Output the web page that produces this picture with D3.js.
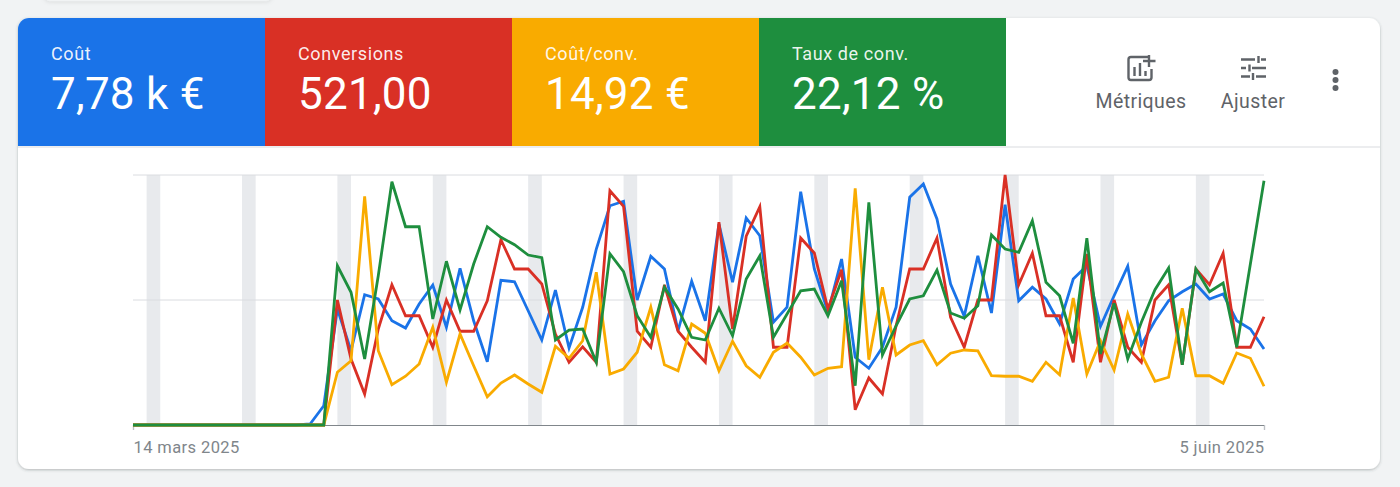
<!DOCTYPE html>
<html lang="fr"><head><meta charset="utf-8">
<script src="https://cdn.jsdelivr.net/npm/d3@7/dist/d3.min.js"></script>
<style>html,body{margin:0;padding:0;background:#f1f3f4;overflow:hidden}svg{display:block}text{font-family:Roboto,sans-serif}</style>
</head><body><svg id="c" width="1400" height="487"></svg>
<script>
const startDate = "2025-03-14";
const endDate = "2025-06-05";
const zeros = n => Array(n).fill(0);
const cost = [...zeros(13),0.4,7.7,46.4,29.7,52.1,50.4,41.7,38.8,48.4,56,39.1,62.7,41.7,25.3,57.9,57.3,45.7,34,54,30.8,47.1,70.4,87.7,89.5,50,67.5,62.4,37.7,57.5,41.7,80.4,57.1,82.8,75.7,41.1,47.1,93.3,62.4,45.1,66.4,27.1,22.7,31.1,47.1,91.1,96.4,82.4,56.4,43.5,67.7,44.8,88.1,49.7,55.1,50.4,40.4,58.4,63.7,39.5,51.7,63.5,32,41.7,49.7,53.3,56.4,50.4,52.4,41.7,38.4,30.4];
const conversions = [...zeros(15),50,26.4,12.4,38.4,56.1,43.7,43.7,31.1,50,37.5,37.5,49.7,74.1,62.4,62.4,56.4,36.4,25.1,31.3,25.1,93.7,87.5,37.5,31.1,56,37.5,31.1,25.1,81.1,38.4,75.5,87.3,31.1,31.1,74.8,68.8,46.4,62.1,6.1,18.8,12.4,39.7,62.4,62.4,74.8,43.1,31.1,50,50,100,56.1,68.7,43.7,43.7,25.1,68.4,25.1,50,31.1,25.1,50,56.1,24.1,62.4,56.1,68.7,31.1,31.1,43.3];
const costPerConv = [...zeros(15),21.1,25.7,91.5,29.7,16.1,19.5,24.4,39.1,17.1,36.4,23.7,11.3,16.8,20,16.4,13.1,31.5,26.7,33.7,61.1,20.4,22.4,29.1,47.1,24.1,21.7,40.4,36.7,21.7,33.5,23.7,19.1,29.1,32.8,27.1,20,22.7,23.3,94.7,26.1,55.1,28,32,33.7,24.1,28.7,30,29.7,19.7,19.5,19.5,17.5,25.1,20.1,50.8,20.4,33.7,22,44.4,28.4,17.5,19.1,46.7,19.7,19.7,16.7,28.8,26.7,15.5];
const convRate = [...zeros(15),63.7,53.1,26.4,59.7,97.3,79.3,79.3,42.4,65.5,46,64.4,79.3,75.1,72.1,68,66.9,34,38,38.4,25.1,68.5,61.3,43.7,35.1,55.1,46.4,35.1,34,46.7,35.7,58.4,67.7,35.1,44.4,53.7,54.4,43.7,57.7,15.7,89.1,28,39.7,50.4,51.7,62,44.8,42.7,47.7,76,70.4,69.1,81.7,57.1,51.7,32.7,74.7,28.4,48.7,26.4,41.1,54.1,62.8,24.1,62.4,53.3,56.8,31.1,64.4,97.7];
const metricNames = ["Coût","Conversions","Coût/conv.","Taux de conv."];
const metricValues = ["7,78 k €","521,00","14,92 €","22,12 %"];
const metricColors = ["#1a73e8","#d93025","#f9ab00","#1e8e3e"];
const actionLabels = ["Métriques","Ajuster"];
const tickLabels = ["14 mars 2025","5 juin 2025"];

const svg = d3.select("#c");
const defs = svg.append("defs");
const f = defs.append("filter").attr("id","sh").attr("x","-5%").attr("y","-10%").attr("width","110%").attr("height","120%");
f.append("feDropShadow").attr("dx",0).attr("dy",1).attr("stdDeviation",1.8).attr("flood-color","#3c4043").attr("flood-opacity",.35);
const f2 = defs.append("filter").attr("id","sh2").attr("x","-10%").attr("y","-100%").attr("width","120%").attr("height","400%");
f2.append("feDropShadow").attr("dx",0).attr("dy",1).attr("stdDeviation",2).attr("flood-color","#3c4043").attr("flood-opacity",.1);
defs.append("clipPath").attr("id","cardClip").append("rect").attr("x",18).attr("y",18).attr("width",1362).attr("height",451).attr("rx",11);

svg.append("rect").attr("x",44).attr("y",-20).attr("width",228).attr("height",21).attr("rx",6).attr("fill","#f1f3f4").attr("filter","url(#sh2)");
svg.append("rect").attr("x",18).attr("y",18).attr("width",1362).attr("height",451).attr("rx",11).attr("fill","#fff").attr("filter","url(#sh)");

const tiles = svg.append("g").attr("clip-path","url(#cardClip)");
const tileX = d3.scaleBand().domain(metricNames).range([18,1006]);
metricNames.forEach((name,i)=>{
  const x = tileX(name);
  tiles.append("rect").attr("x",x).attr("y",18).attr("width",tileX.bandwidth()).attr("height",128).attr("fill",metricColors[i]);
  tiles.append("text").attr("x",x+33).attr("y",60).attr("font-size",18).attr("fill","#fff").attr("fill-opacity",.92).attr("letter-spacing",.6).text(name);
  tiles.append("text").attr("x",x+33).attr("y",109).attr("font-size",44).attr("fill","#fff").attr("letter-spacing",.25).text(metricValues[i]);
});
svg.append("line").attr("x1",18).attr("x2",1380).attr("y1",147).attr("y2",147).attr("stroke","#dadce0").attr("stroke-width",1.2);

// toolbar
const grey = "#5f6368";
svg.append("text").attr("x",1141).attr("y",108).attr("text-anchor","middle").attr("font-size",19.5).attr("fill",grey).attr("letter-spacing",.4).text(actionLabels[0]);
svg.append("text").attr("x",1253).attr("y",108).attr("text-anchor","middle").attr("font-size",19.5).attr("fill",grey).attr("letter-spacing",.4).text(actionLabels[1]);
const ic = svg.append("g").attr("fill","none").attr("stroke",grey).attr("stroke-width",2.4);
ic.append("path").attr("d","M1148 57H1131a2.5 2.5 0 0 0-2.500 2.500V77.500a2.500 2.500 0 0 0 2.500 2.500H1149a2.500 2.500 0 0 0 2.500-2.500V69");
ic.append("path").attr("d","M1149 55V67M1143 61H1155.500");
ic.append("path").attr("d","M1134.500 76V67M1140 76V63M1145.500 76V71");
ic.append("path").attr("d","M1241 59.500H1255M1261 59.500H1266M1258.500 56V63M1241 68H1246M1252 68H1266M1249.500 64.500V71.500M1241 76.500H1250M1256 76.500H1266M1253 73V80");
svg.selectAll(".dot").data([72,80,88]).join("circle").attr("cx",1335.500).attr("cy",d=>d).attr("r",3).attr("fill",grey);

// chart
const parse = d3.utcParse("%Y-%m-%d");
const dates = d3.utcDay.range(parse(startDate), d3.utcDay.offset(parse(endDate),1));
const x = d3.scaleUtc().domain([dates[0],dates[dates.length-1]]).range([133,1264]);
const y = d3.scaleLinear().domain([0,100]).range([425,175]);
const plot = svg.append("g");
const saturdays = dates.filter(d=>d.getUTCDay()===6);
plot.selectAll(".wk").data(saturdays).join("rect").attr("class","wk")
  .attr("x",d=>x(d)).attr("width",d=>x(d3.utcDay.offset(d,1))-x(d)).attr("y",y(100)).attr("height",y(0)-y(100)).attr("fill","#e8eaed");
plot.selectAll(".gr").data([100,50]).join("line").attr("class","gr")
  .attr("x1",133).attr("x2",1264).attr("y1",d=>y(d)).attr("y2",d=>y(d)).attr("stroke","#dadce0").attr("stroke-width",1);
const axis = d3.axisBottom(x).tickValues([dates[0],dates[dates.length-1]]).tickSize(5).tickFormat((d,i)=>tickLabels[i]);
const ag = svg.append("g").attr("transform","translate(0,425)").call(axis);
ag.select(".domain").attr("stroke","#80868b").attr("stroke-width",1.2);
ag.selectAll(".tick line").attr("stroke","#bdc1c6");
ag.selectAll(".tick text").attr("font-size",16.5).attr("font-family","Roboto,sans-serif").attr("fill","#80868b").attr("dy",0).attr("y",28).attr("letter-spacing",.4)
  .attr("text-anchor",(d,i)=>i===0?"start":"end");
const line = d3.line().x((d,i)=>x(dates[i])).y(d=>y(d));
[[cost,0],[conversions,1],[costPerConv,2],[convRate,3]].forEach(([s,c])=>{
  svg.append("path").attr("d",line(s)).attr("fill","none").attr("stroke",metricColors[c]).attr("stroke-width",2.8).attr("stroke-linejoin","miter");
});
</script></body></html>
